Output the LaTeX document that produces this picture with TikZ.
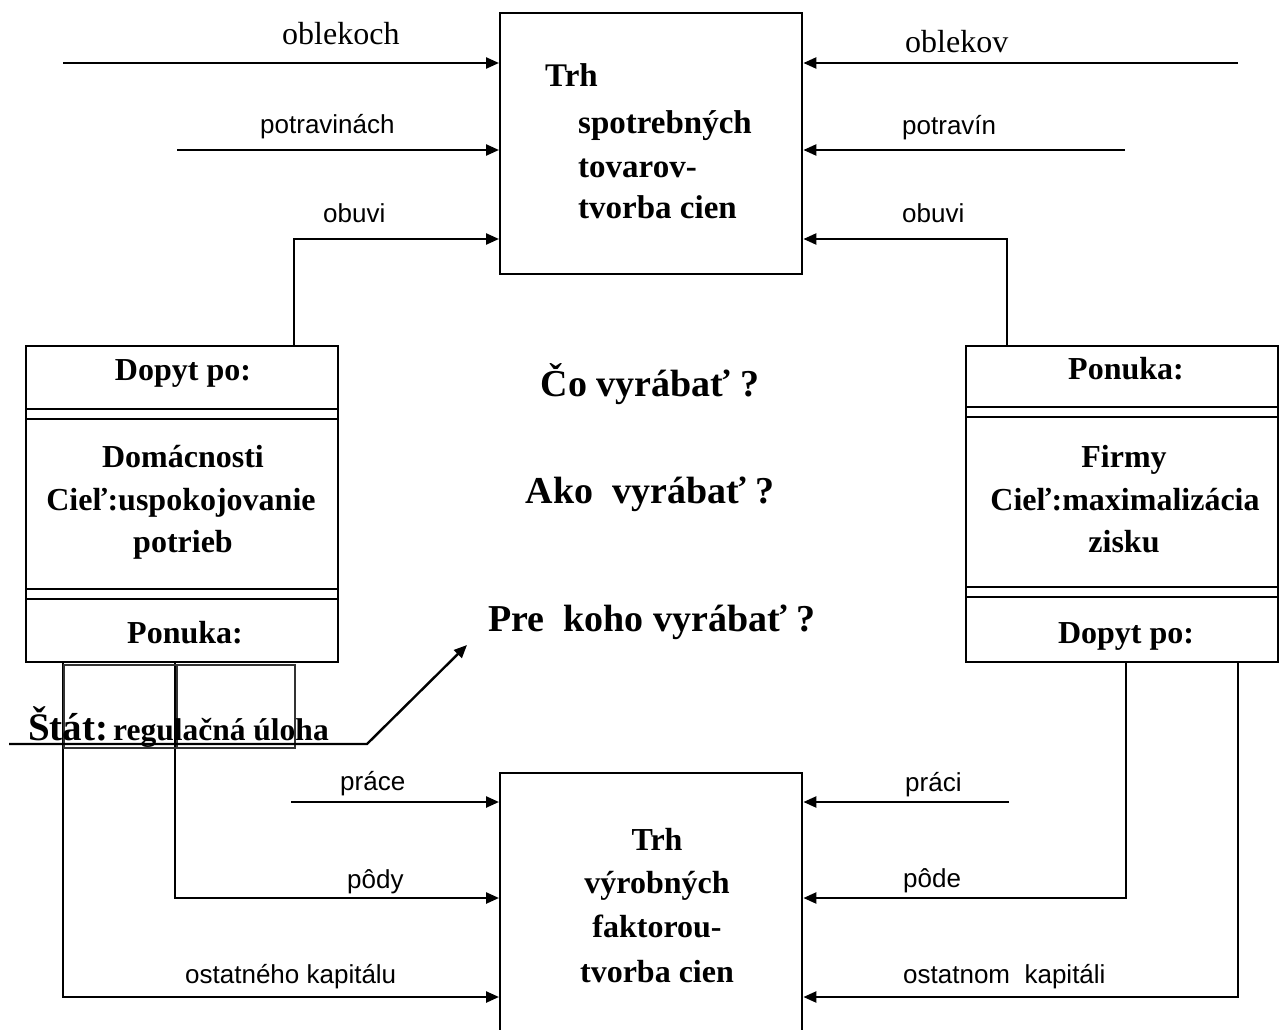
\documentclass[tikz,border=0pt]{standalone}
\usepackage{fontspec}
\setmainfont{Liberation Serif}
\newfontfamily\lsans{Liberation Sans}
\usetikzlibrary{arrows.meta}
\begin{document}
\begin{tikzpicture}[x=1pt,y=-1pt,
  ln/.style={line width=2.4pt},
  arr/.style={line width=2.4pt,-{Triangle[length=13pt,width=11pt]}},
  box/.style={draw,line width=2.4pt,inner sep=0pt,anchor=north west},
  sbox/.style={draw,black!80,line width=2.4pt,inner sep=0pt,anchor=north west},
  bt/.style={font=\bfseries\fontsize{32}{32}\selectfont,inner sep=0pt,anchor=base},
  btl/.style={font=\bfseries\fontsize{33}{33}\selectfont,inner sep=0pt,anchor=base west},
  ct/.style={font=\bfseries\fontsize{38}{38}\selectfont,inner sep=0pt,anchor=base},
  lab/.style={font=\lsans\fontsize{26}{26}\selectfont,inner sep=0pt,anchor=base west},
  slab/.style={font=\fontsize{32}{32}\selectfont,inner sep=0pt,anchor=base west},
]
\useasboundingbox (0,0) rectangle (1279,1030);

% boxes
\node[box,minimum width=302pt,minimum height=261pt] (tm) at (499,12) {};
\node[box,minimum width=302pt,minimum height=290pt] (fm) at (499,772) {};
\node[box,minimum width=312pt,minimum height=316pt] (hh) at (25,345) {};
\node[box,minimum width=312pt,minimum height=316pt] (ff) at (965,345) {};

% dividers
\foreach \yy in {409,419,589,599} \draw[ln] (hh.west |- 0,\yy) -- (hh.east |- 0,\yy);
\foreach \yy in {407,417,587,597} \draw[ln] (ff.west |- 0,\yy) -- (ff.east |- 0,\yy);

% top box text
\node[btl] (t1) at (545,87) {Trh};
\node[btl] (t2) at (578,133) {spotrebných};
\node[btl] (t3) at (578,177) {tovarov-};
\node[btl] (t4) at (578,218) {tvorba cien};

% bottom box text
\node[bt] (b1) at (657,850) {Trh};
\node[bt] (b2) at (657,893) {výrobných};
\node[bt] (b3) at (657,937) {faktorou-};
\node[bt] (b4) at (657,982) {tvorba cien};

% household box text
\node[bt] (h1) at (183,380) {Dopyt po:};
\node[bt] (h2) at (183,467) {Domácnosti};
\node[bt] (h3) at (181,510) {Cieľ:uspokojovanie};
\node[bt] (h4) at (183,552) {potrieb};
\node[bt] (h5) at (185,643) {Ponuka:};

% firms box text
\node[bt] (f1) at (1126,379) {Ponuka:};
\node[bt] (f2) at (1124,467) {Firmy};
\node[bt] (f3) at (1125,510) {Cieľ:maximalizácia};
\node[bt] (f4) at (1124,552) {zisku};
\node[bt] (f5) at (1126,643) {Dopyt po:};

% centre questions
\node[ct] (q1) at (650,396) {Čo vyrábať ?};
\node[ct] (q2) at (650,503) {Ako~ vyrábať ?};
\node[ct] (q3) at (652,631) {Pre~ koho vyrábať ?};

% arrows into top market
\coordinate (a1) at (63,63);
\draw[arr] (a1) -- (a1 -| tm.west);
\coordinate (a2) at (177,150);
\draw[arr] (a2) -- (a2 -| tm.west);
\coordinate (a3) at (294,239);
\draw[arr] (a3 |- hh.north) -- (a3) -- (a3 -| tm.west);
\coordinate (a4) at (1238,63);
\draw[arr] (a4) -- (a4 -| tm.east);
\coordinate (a5) at (1125,150);
\draw[arr] (a5) -- (a5 -| tm.east);
\coordinate (a6) at (1007,239);
\draw[arr] (a6 |- ff.north) -- (a6) -- (a6 -| tm.east);

\node[slab] (l1) at (282,45) {oblekoch};
\node[lab] (l2) at (260,133) {potravinách};
\node[lab] (l3) at (323,222) {obuvi};
\node[slab] (l4) at (905,53) {oblekov};
\node[lab] (l5) at (902,135) {potravín};
\node[lab] (l6) at (902,222) {obuvi};

% arrows into bottom market
\coordinate (d1) at (291,802);
\draw[arr] (d1) -- (d1 -| fm.west);
\coordinate (d2) at (175,898);
\draw[arr] (d2 |- hh.south) -- (d2) -- (d2 -| fm.west);
\coordinate (d3) at (63,997);
\draw[arr] (d3 |- hh.south) -- (d3) -- (d3 -| fm.west);
\coordinate (e1) at (1009,802);
\draw[arr] (e1) -- (e1 -| fm.east);
\coordinate (e2) at (1126,898);
\draw[arr] (e2 |- ff.south) -- (e2) -- (e2 -| fm.east);
\coordinate (e3) at (1238,997);
\draw[arr] (e3 |- ff.south) -- (e3) -- (e3 -| fm.east);

\node[lab] (m1) at (340,790) {práce};
\node[lab] (m2) at (347,888) {pôdy};
\node[lab] (m3) at (185,983) {ostatného kapitálu};
\node[lab] (m4) at (905,791) {práci};
\node[lab] (m5) at (903,887) {pôde};
\node[lab] (m6) at (903,983) {ostatnom~ kapitáli};

% state
\node[sbox,minimum width=113pt,minimum height=83pt] (r1) at (63,664) {};
\node[sbox,minimum width=118pt,minimum height=83pt] (r2) at (176,664) {};
\coordinate (s0) at (9,744);
\coordinate (s1) at (367,744);
\coordinate (s2) at (467,645);
\draw[arr] (s0) -- (s1) -- (s2);
\node[font=\bfseries\fontsize{39}{39}\selectfont,inner sep=0pt,anchor=base west] (st1) at (28,740) {Štát:};
\node[font=\bfseries\fontsize{31.5}{31.5}\selectfont,inner sep=0pt,anchor=base west] (st2) at (113,740) {regulačná úloha};
\end{tikzpicture}
\end{document}
